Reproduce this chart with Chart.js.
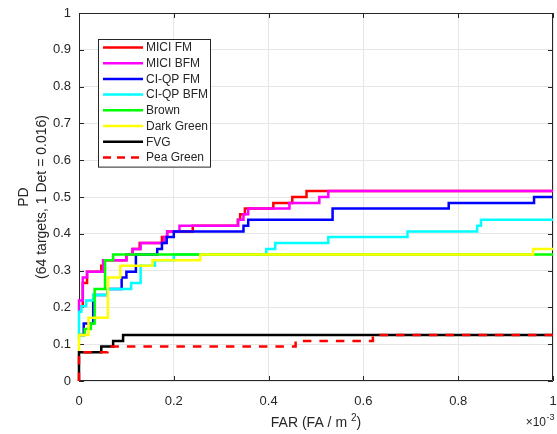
<!DOCTYPE html>
<html>
<head>
<meta charset="utf-8">
<script src="https://cdn.jsdelivr.net/npm/chart.js@4.4.1/dist/chart.umd.min.js"></script>
<style>
  html, body { margin: 0; padding: 0; background: #fff; }
  #wrap { width: 557px; height: 434px; }
</style>
</head>
<body>
<div id="wrap"><canvas id="rocChart" width="557" height="434"></canvas></div>
<script>
// Series names (legend order)
const seriesNames = ['MICI FM', 'MICI BFM', 'CI-QP FM', 'CI-QP BFM', 'Brown', 'Dark Green', 'FVG', 'Pea Green'];

// FAR (x 1e-3 FA/m^2) where PD steps up, and the PD reached there
const miciFmFar = [0, 0.008, 0.017, 0.047, 0.051, 0.10, 0.113, 0.128, 0.175, 0.186, 0.24, 0.335, 0.34, 0.35, 0.41, 0.45, 0.48, 1];
const miciFmPd = [0.203, 0.266, 0.297, 0.313, 0.328, 0.344, 0.359, 0.375, 0.391, 0.406, 0.422, 0.438, 0.453, 0.469, 0.484, 0.5, 0.516, 0.516];

const miciBfmFar = [0, 0, 0.008, 0.017, 0.051, 0.10, 0.113, 0.13, 0.18, 0.186, 0.212, 0.336, 0.347, 0.357, 0.444, 0.507, 0.526, 1];
const miciBfmPd = [0.188, 0.219, 0.281, 0.297, 0.328, 0.344, 0.359, 0.375, 0.391, 0.406, 0.422, 0.438, 0.453, 0.469, 0.484, 0.5, 0.516, 0.516];

const ciqpFmFar = [0, 0.01, 0.03, 0.06, 0.09, 0.10, 0.12, 0.165, 0.175, 0.185, 0.2, 0.347, 0.357, 0.535, 0.78, 0.96, 1];
const ciqpFmPd = [0.125, 0.156, 0.234, 0.25, 0.281, 0.297, 0.344, 0.359, 0.375, 0.391, 0.406, 0.422, 0.438, 0.469, 0.484, 0.5, 0.5];

const ciqpBfmFar = [0, 0, 0.005, 0.015, 0.03, 0.06, 0.11, 0.13, 0.16, 0.2, 0.395, 0.414, 0.526, 0.693, 0.84, 0.848, 1];
const ciqpBfmPd = [0.109, 0.188, 0.203, 0.219, 0.234, 0.25, 0.266, 0.313, 0.328, 0.344, 0.359, 0.375, 0.391, 0.406, 0.422, 0.438, 0.438];

const brownFar = [0, 0.012, 0.025, 0.033, 0.055, 0.072, 1];
const brownPd = [0.125, 0.141, 0.156, 0.25, 0.328, 0.344, 0.344];

const darkGreenFar = [0, 0, 0.02, 0.061, 0.087, 0.155, 0.256, 0.958, 1];
const darkGreenPd = [0.078, 0.125, 0.172, 0.281, 0.313, 0.328, 0.344, 0.359, 0.359];

const fvgFar = [0, 0, 0.047, 0.072, 0.093, 1];
const fvgPd = [0, 0.078, 0.094, 0.109, 0.125, 0.125];

const peaGreenFar = [0, 0, 0.06, 0.457, 0.62, 1];
const peaGreenPd = [0, 0.078, 0.094, 0.109, 0.125, 0.125];

// Axis ticks
const farTicks = [0, 0.2, 0.4, 0.6, 0.8, 1];
const pdTicks = [0, 0.1, 0.2, 0.3, 0.4, 0.5, 0.6, 0.7, 0.8, 0.9, 1];

const seriesFar = [miciFmFar, miciBfmFar, ciqpFmFar, ciqpBfmFar, brownFar, darkGreenFar, fvgFar, peaGreenFar];
const seriesPd = [miciFmPd, miciBfmPd, ciqpFmPd, ciqpBfmPd, brownPd, darkGreenPd, fvgPd, peaGreenPd];
const seriesColors = ['#ff0000', '#ff00ff', '#0000ff', '#00ffff', '#00ff00', '#ffff00', '#000000', '#ff0000'];

const FONT = '"Liberation Sans", Arial, Helvetica, sans-serif';
const AXIS_COLOR = '#262626';

const datasets = seriesNames.map((name, i) => ({
    label: name,
    data: seriesFar[i].map((x, j) => ({ x: x, y: seriesPd[i][j] })),
    borderColor: seriesColors[i],
    backgroundColor: seriesColors[i],
    borderWidth: 2.5,
    borderDash: name === 'Pea Green' ? [8.5, 8] : [],
    stepped: 'before',
    pointRadius: 0,
    fill: false,
    clip: false,
    order: -i // later series drawn on top, like MATLAB
}));

// plain number labels: 0, 0.2, ..., 1
const tickText = v => String(Math.round(v * 10) / 10);

// Box around the axes plus inward ticks on all four sides
const frameTicks = {
    id: 'frameTicks',
    beforeDatasetsDraw(chart) {
        const { ctx, chartArea: a, scales } = chart;
        ctx.save();
        ctx.strokeStyle = AXIS_COLOR;
        ctx.lineWidth = 1;
        ctx.beginPath();
        ctx.rect(a.left + 0.5, a.top + 0.5, a.right - a.left - 1, a.bottom - a.top - 1);
        farTicks.forEach(v => {
            const x = Math.round(scales.x.getPixelForValue(v)) + 0.5;
            ctx.moveTo(x, a.bottom); ctx.lineTo(x, a.bottom - 5);
            ctx.moveTo(x, a.top); ctx.lineTo(x, a.top + 5);
        });
        pdTicks.forEach(v => {
            const y = Math.round(scales.y.getPixelForValue(v)) + 0.5;
            ctx.moveTo(a.left, y); ctx.lineTo(a.left + 5, y);
            ctx.moveTo(a.right, y); ctx.lineTo(a.right - 5, y);
        });
        ctx.stroke();
        ctx.restore();
    }
};

// Legend box inside the axes, upper left
const innerLegend = {
    id: 'innerLegend',
    afterDatasetsDraw(chart) {
        const { ctx } = chart;
        const x0 = 98, y0 = 39, w = 112, rowH = 15.7;
        const h = rowH * seriesNames.length + 2;
        ctx.save();
        ctx.fillStyle = '#fff';
        ctx.fillRect(x0, y0, w, h);
        ctx.strokeStyle = AXIS_COLOR;
        ctx.lineWidth = 1;
        ctx.strokeRect(x0 + 0.5, y0 + 0.5, w, h);
        ctx.font = '12px ' + FONT;
        ctx.textBaseline = 'middle';
        ctx.textAlign = 'left';
        chart.data.datasets.forEach((ds, i) => {
            const y = y0 + 8.5 + i * rowH;
            ctx.strokeStyle = ds.borderColor;
            ctx.lineWidth = 2.5;
            ctx.setLineDash(ds.borderDash.length ? [8, 6] : []);
            ctx.beginPath();
            ctx.moveTo(x0 + 5, y);
            ctx.lineTo(x0 + 45, y);
            ctx.stroke();
            ctx.setLineDash([]);
            ctx.fillStyle = AXIS_COLOR;
            ctx.fillText(ds.label, x0 + 48, y + 0.5);
        });
        ctx.restore();
    }
};

// X label with superscript and the x10^-3 exponent
const xLabel = {
    id: 'xLabel',
    afterDraw(chart) {
        const { ctx, chartArea: a } = chart;
        ctx.save();
        ctx.fillStyle = AXIS_COLOR;
        ctx.textBaseline = 'alphabetic';
        ctx.textAlign = 'left';
        const main = '14px ' + FONT, sup = '10px ' + FONT;
        const p1 = 'FAR (FA / m ', p2 = '2', p3 = ')';
        ctx.font = main;
        const w1 = ctx.measureText(p1).width, w3 = ctx.measureText(p3).width;
        ctx.font = sup;
        const w2 = ctx.measureText(p2).width;
        const total = w1 + w2 + w3;
        let x = (a.left + a.right) / 2 - total / 2;
        const base = 427;
        ctx.font = main; ctx.fillText(p1, x, base); x += w1;
        ctx.font = sup; ctx.fillText(p2, x, base - 6); x += w2;
        ctx.font = main; ctx.fillText(p3, x, base);

        // exponent
        const e1 = '\u00d710';
        ctx.font = '9px ' + FONT;
        const we2 = ctx.measureText('-3').width;
        ctx.font = '12px ' + FONT;
        const we1 = ctx.measureText(e1).width;
        const ex = a.right + 1 - we1 - we2;
        ctx.fillText(e1, ex, 426);
        ctx.font = '9px ' + FONT;
        ctx.fillText('-3', ex + we1 + 0.5, 420);
        ctx.restore();
    }
};

const ctx = document.getElementById('rocChart').getContext('2d');
const rocChart = new Chart(ctx, {
    type: 'line',
    data: { datasets: datasets },
    options: {
        responsive: false,
        animation: false,
        layout: { padding: { top: 13, right: 4, left: 0, bottom: 0 } },
        plugins: {
            legend: { display: false },
            tooltip: { enabled: false }
        },
        scales: {
            x: {
                type: 'linear',
                min: 0,
                max: 1,
                afterFit(scale) {
                    scale.height = 53;
                    scale.paddingLeft = 0;
                    scale.paddingRight = 0;
                },
                afterBuildTicks(scale) { scale.ticks = farTicks.map(v => ({ value: v })); },
                ticks: {
                    color: AXIS_COLOR,
                    font: { family: FONT, size: 13 },
                    padding: 13,
                    maxRotation: 0,
                    callback: tickText
                },
                grid: { color: '#e6e6e6', lineWidth: 1, drawTicks: false },
                border: { display: false }
            },
            y: {
                type: 'linear',
                min: 0,
                max: 1,
                afterFit(scale) {
                    scale.width = 79;
                    scale.paddingTop = 0;
                    scale.paddingBottom = 0;
                },
                afterBuildTicks(scale) { scale.ticks = pdTicks.map(v => ({ value: v })); },
                ticks: {
                    color: AXIS_COLOR,
                    font: { family: FONT, size: 13 },
                    padding: 8,
                    callback: tickText
                },
                grid: { color: '#e6e6e6', lineWidth: 1, drawTicks: false },
                border: { display: false },
                title: {
                    display: true,
                    text: ['PD', '(64 targets, 1 Det = 0.016)'],
                    color: AXIS_COLOR,
                    font: { family: FONT, size: 14, lineHeight: 1.3 },
                    padding: { top: 15, bottom: 0 }
                }
            }
        }
    },
    plugins: [frameTicks, innerLegend, xLabel]
});
</script>
</body>
</html>
